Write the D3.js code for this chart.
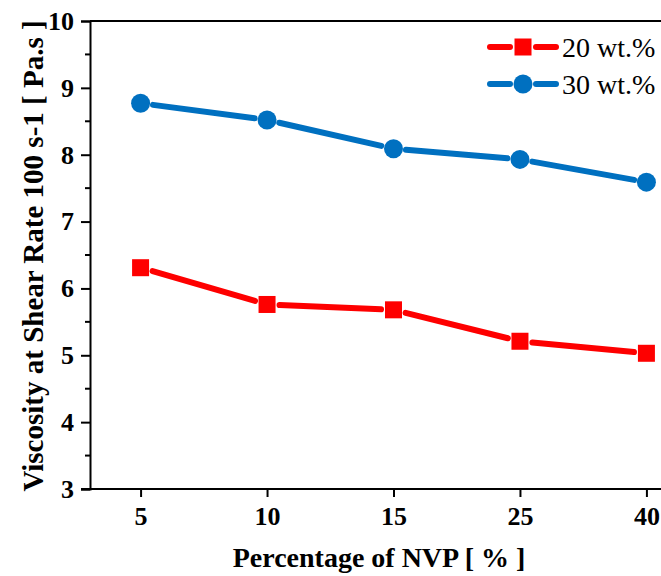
<!DOCTYPE html>
<html>
<head>
<meta charset="utf-8">
<script src="https://cdn.jsdelivr.net/npm/d3@7"></script>
<style>
  body { margin: 0; background: #fff; }
  svg { display: block; font-family: "Liberation Serif", "Times New Roman", serif; }
  .tick text { font-family: "Liberation Serif", serif; font-weight: bold; }
</style>
</head>
<body>
<script>
const width = 661, height = 576;

// data
const categories = ["5", "10", "15", "25", "40"];
const wt20 = [6.31, 5.76, 5.68, 5.21, 5.03];
const wt30 = [8.77, 8.52, 8.09, 7.93, 7.59];
const yTicks = [3, 4, 5, 6, 7, 8, 9, 10];
const yMinor = [3.5, 4.5, 5.5, 6.5, 7.5, 8.5, 9.5];

const series = [
  { name: "20 wt.%", values: wt20, color: "#fe0000", shape: "square" },
  { name: "30 wt.%", values: wt30, color: "#0070c0", shape: "circle" }
];

const plotLeft = 90, plotTop = 21, plotBottom = 489;

const svg = d3.select("body").append("svg")
  .attr("width", width)
  .attr("height", height);

const x = d3.scaleLinear().domain([-0.4, 4.4]).range([plotLeft, plotLeft + 607]);
const y = d3.scaleLinear().domain([3, 10]).range([plotBottom, plotTop]);

// frame: top line
svg.append("line")
  .attr("x1", plotLeft).attr("x2", width)
  .attr("y1", plotTop).attr("y2", plotTop)
  .attr("stroke", "#000").attr("stroke-width", 2);

// y axis
const yAxis = svg.append("g")
  .attr("transform", `translate(${plotLeft},0)`)
  .call(d3.axisLeft(y).tickValues(yTicks).tickSize(9).tickPadding(7).tickFormat(d3.format("d")));
yAxis.select(".domain").attr("stroke-width", 2);
yAxis.selectAll(".tick line").attr("stroke-width", 2);
yAxis.selectAll(".tick text")
  .attr("font-size", 26).attr("fill", "#000");
svg.append("g")
  .attr("transform", `translate(${plotLeft},0)`)
  .selectAll("line").data(yMinor).join("line")
  .attr("x1", -5).attr("x2", 0)
  .attr("y1", d => y(d)).attr("y2", d => y(d))
  .attr("stroke", "#000").attr("stroke-width", 2);

// x axis
const xAxis = svg.append("g")
  .attr("transform", `translate(0,${plotBottom})`)
  .call(d3.axisBottom(x).tickValues(d3.range(categories.length)).tickSize(8).tickPadding(10)
    .tickFormat(i => categories[i]));
xAxis.select(".domain").remove();
xAxis.append("line")
  .attr("x1", plotLeft - 9).attr("x2", width)
  .attr("stroke", "#000").attr("stroke-width", 2);
xAxis.selectAll(".tick line").attr("stroke-width", 2);
xAxis.selectAll(".tick text")
  .attr("font-size", 26).attr("fill", "#000");

// axis titles
svg.append("text")
  .attr("x", 379).attr("y", 567)
  .attr("text-anchor", "middle")
  .attr("font-size", 28).attr("font-weight", "bold")
  .text("Percentage of NVP [ % ]");

svg.append("text")
  .attr("transform", `translate(43,${(plotTop + plotBottom) / 2 + 1}) rotate(-90)`)
  .attr("text-anchor", "middle")
  .attr("font-size", 29).attr("font-weight", "bold")
  .text("Viscosity at Shear Rate 100 s-1 [ Pa.s ]");

// lines with gaps next to the markers
const gap = 12.5;
function segments(pts) {
  const segs = [];
  for (let i = 0; i < pts.length - 1; i++) {
    const [x1, y1] = pts[i], [x2, y2] = pts[i + 1];
    const len = Math.hypot(x2 - x1, y2 - y1);
    const ux = (x2 - x1) / len, uy = (y2 - y1) / len;
    segs.push([x1 + ux * gap, y1 + uy * gap, x2 - ux * gap, y2 - uy * gap]);
  }
  return segs;
}

function marker(g, shape, color) {
  if (shape === "square") {
    g.append("rect").attr("x", -8.5).attr("y", -8.5).attr("width", 17).attr("height", 17).attr("fill", color);
  } else {
    g.append("circle").attr("r", 9.5).attr("fill", color);
  }
}

series.forEach(s => {
  const pts = s.values.map((v, i) => [x(i), y(v)]);
  svg.append("g").selectAll("line").data(segments(pts)).join("line")
    .attr("x1", d => d[0]).attr("y1", d => d[1])
    .attr("x2", d => d[2]).attr("y2", d => d[3])
    .attr("stroke", s.color).attr("stroke-width", 6).attr("stroke-linecap", "round");
  pts.forEach(p => {
    const g = svg.append("g").attr("transform", `translate(${p[0]},${p[1]})`);
    marker(g, s.shape, s.color);
  });
});

// legend
const legend = svg.append("g");
series.forEach((s, i) => {
  const cy = 47 + i * 37;
  const g = legend.append("g").attr("transform", `translate(523,${cy})`);
  g.append("line").attr("x1", -33).attr("x2", -13).attr("stroke", s.color)
    .attr("stroke-width", 6).attr("stroke-linecap", "round");
  g.append("line").attr("x1", 13).attr("x2", 33).attr("stroke", s.color)
    .attr("stroke-width", 6).attr("stroke-linecap", "round");
  marker(g, s.shape, s.color);
  legend.append("text")
    .attr("x", 562).attr("y", cy + 10)
    .attr("font-size", 28)
    .text(s.name);
});
</script>
</body>
</html>
